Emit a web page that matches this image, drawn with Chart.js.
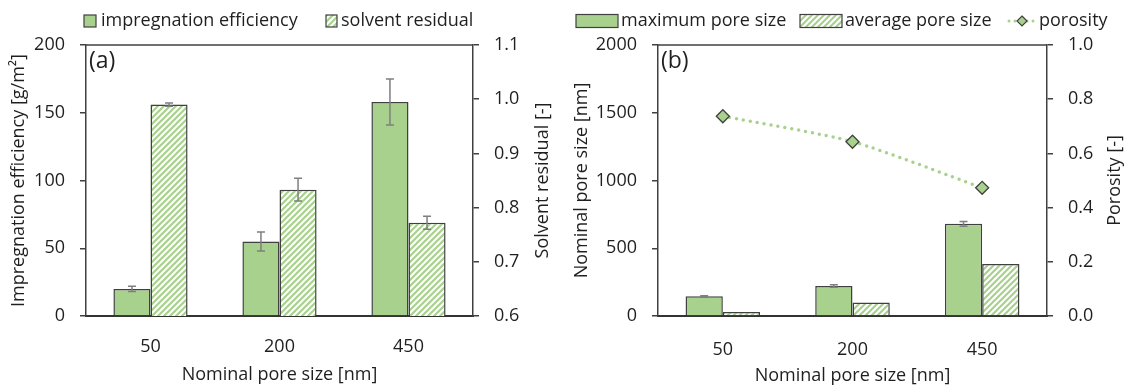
<!DOCTYPE html>
<html>
<head>
<meta charset="utf-8">
<script src="https://cdn.jsdelivr.net/npm/chart.js@4"></script>
<style>
html, body { margin: 0; padding: 0; background: #fff; }
#wrap { position: relative; width: 1126px; height: 387px; }
canvas { position: absolute; top: 0; }
</style>
</head>
<body>
<div id="wrap">
  <canvas id="chartA" width="563" height="387" style="left:0px"></canvas>
  <canvas id="chartB" width="563" height="387" style="left:563px"></canvas>
</div>
<script>
// ---- data ----
const poreSizes = ["50", "200", "450"];

// panel (a)
const impregEff = [20, 55, 158];
const impregEffErr = [2, 7, 17];
const solventRes = [0.99, 0.833, 0.772];
const solventResErr = [0.003, 0.021, 0.012];

// panel (b)
const maxPore = [145, 222, 680];
const maxPoreErr = [5, 9, 18];
const avgPore = [30, 99, 384];
const porosity = [0.737, 0.643, 0.473];

// ---- style ----
const GREEN = "#A9D18E";
const EDGE = "#404040";
const TEXT = "#1f1f1f";
const FONT = "'Open Sans', Lato, sans-serif";

Chart.defaults.font.family = FONT;
Chart.defaults.font.size = 18;
Chart.defaults.color = TEXT;

function makeHatch(canvas) {
    const p = 6;
    const c = document.createElement("canvas");
    c.width = p; c.height = p;
    const g = c.getContext("2d");
    g.fillStyle = "#fff";
    g.fillRect(0, 0, p, p);
    g.strokeStyle = GREEN;
    g.lineWidth = 2.2;
    g.beginPath();
    g.moveTo(-1, p + 1); g.lineTo(p + 1, -1);
    g.moveTo(-1, 1); g.lineTo(1, -1);
    g.moveTo(p - 1, p + 1); g.lineTo(p + 1, p - 1);
    g.stroke();
    return canvas.getContext("2d").createPattern(c, "repeat");
}

// error bars drawn from the dataset's own y scale
const errorBars = {
    id: "errorBars",
    afterDatasetsDraw(chart) {
        const ctx = chart.ctx;
        chart.data.datasets.forEach((ds, i) => {
            if (!ds.errors) return;
            const meta = chart.getDatasetMeta(i);
            const scale = chart.scales[ds.yAxisID];
            ctx.save();
            ctx.strokeStyle = "#7f7f7f";
            ctx.lineWidth = 1.5;
            meta.data.forEach((bar, j) => {
                const yTop = scale.getPixelForValue(ds.data[j] + ds.errors[j]);
                const yBot = scale.getPixelForValue(ds.data[j] - ds.errors[j]);
                const x = bar.x;
                ctx.beginPath();
                ctx.moveTo(x, yTop); ctx.lineTo(x, yBot);
                ctx.moveTo(x - 4, yTop); ctx.lineTo(x + 4, yTop);
                ctx.moveTo(x - 4, yBot); ctx.lineTo(x + 4, yBot);
                ctx.stroke();
            });
            ctx.restore();
        });
    }
};

// frame top line, panel letter, right-axis title and legend
const panelDeco = {
    id: "panelDeco",
    afterDraw(chart, args, opts) {
        const ctx = chart.ctx;
        const a = chart.chartArea;
        ctx.save();
        ctx.strokeStyle = EDGE;
        ctx.lineWidth = 1.5;
        ctx.beginPath();
        ctx.moveTo(a.left, a.top); ctx.lineTo(a.right, a.top);
        ctx.stroke();

        ctx.fillStyle = TEXT;
        ctx.font = "23px " + FONT;
        ctx.textBaseline = "middle";
        ctx.textAlign = "left";
        ctx.fillText(opts.label, a.left + 3, a.top + 16);

        // right title reads bottom to top, like the left one
        ctx.save();
        ctx.font = "18px " + FONT;
        ctx.textAlign = "center";
        ctx.translate(opts.rightTitleX, (a.top + a.bottom) / 2);
        ctx.rotate(-Math.PI / 2);
        ctx.fillText(opts.rightTitle, 0, 0);
        ctx.restore();

        ctx.font = "18px " + FONT;
        opts.legend.forEach(item => {
            const cy = 21;
            if (item.kind === "box") {
                ctx.fillStyle = item.fill;
                ctx.fillRect(item.x, cy - item.h / 2, item.w, item.h);
                ctx.strokeStyle = EDGE;
                ctx.lineWidth = 1.2;
                ctx.strokeRect(item.x, cy - item.h / 2, item.w, item.h);
            } else {
                ctx.strokeStyle = GREEN;
                ctx.lineWidth = 3;
                ctx.lineCap = "round";
                ctx.setLineDash([0, 6]);
                ctx.beginPath();
                ctx.moveTo(item.x, cy); ctx.lineTo(item.x + item.w, cy);
                ctx.stroke();
                ctx.setLineDash([]);
                const mx = item.x + item.w / 2, r = 5;
                ctx.beginPath();
                ctx.moveTo(mx, cy - r); ctx.lineTo(mx + r, cy);
                ctx.lineTo(mx, cy + r); ctx.lineTo(mx - r, cy);
                ctx.closePath();
                ctx.fillStyle = GREEN;
                ctx.fill();
                ctx.strokeStyle = EDGE;
                ctx.lineWidth = 1.2;
                ctx.stroke();
            }
            ctx.fillStyle = TEXT;
            ctx.fillText(item.text, item.tx, cy);
        });
        ctx.restore();
    }
};

function yAxis(pos, min, max, step, width, title, decimals) {
    return {
        position: pos,
        min: min,
        max: max,
        ticks: {
            stepSize: step,
            padding: 15,
            callback: v => Number(v).toFixed(decimals)
        },
        grid: { drawOnChartArea: false, drawTicks: true, tickLength: 6, color: EDGE, lineWidth: 1.5 },
        border: { display: true, color: EDGE, width: 1.5 },
        title: { display: !!title, text: title, padding: { top: 8, bottom: 0 } },
        afterFit(s) { s.width = width; }
    };
}

function xAxis(tickPad, titleBottom) {
    return {
        grid: { display: false, drawTicks: false },
        border: { display: true, color: "#333", width: 2 },
        ticks: { padding: tickPad },
        title: { display: true, text: "Nominal pore size [nm]", padding: { top: 4, bottom: titleBottom } },
        afterFit(s) { s.height = 71; }
    };
}

// ---- panel (a) ----
const canvasA = document.getElementById("chartA");
const hatchA = makeHatch(canvasA);

new Chart(canvasA, {
    type: "bar",
    data: {
        labels: poreSizes,
        datasets: [{
            label: "impregnation efficiency",
            data: impregEff,
            errors: impregEffErr,
            yAxisID: "y",
            backgroundColor: GREEN,
            borderColor: EDGE,
            borderWidth: 1.5
        }, {
            label: "solvent residual",
            data: solventRes,
            errors: solventResErr,
            yAxisID: "y1",
            backgroundColor: hatchA,
            borderColor: EDGE,
            borderWidth: 1.5
        }]
    },
    options: {
        responsive: false,
        animation: false,
        layout: { padding: { top: 45, left: 0, right: 0, bottom: 0 } },
        datasets: { bar: { categoryPercentage: 0.575, barPercentage: 1 } },
        plugins: {
            legend: { display: false },
            tooltip: { enabled: false },
            panelDeco: {
                label: "(a)",
                rightTitle: "Solvent residual [-]",
                rightTitleX: 543,
                legend: [
                    { kind: "box", fill: GREEN, x: 84, w: 12, h: 12, tx: 101, text: "impregnation efficiency" },
                    { kind: "box", fill: hatchA, x: 326, w: 11, h: 12, tx: 341, text: "solvent residual" }
                ]
            }
        },
        scales: {
            x: xAxis(20, 1),
            y: yAxis("left", 0, 200, 50, 86, "Impregnation efficiency [g/m²]", 0),
            y1: yAxis("right", 0.6, 1.1, 0.1, 90, "", 1)
        }
    },
    plugins: [errorBars, panelDeco]
});

// ---- panel (b) ----
const canvasB = document.getElementById("chartB");
const hatchB = makeHatch(canvasB);

new Chart(canvasB, {
    type: "bar",
    data: {
        labels: poreSizes,
        datasets: [{
            type: "line",
            label: "porosity",
            data: porosity,
            yAxisID: "y1",
            borderColor: GREEN,
            borderWidth: 3.5,
            borderDash: [0, 7],
            borderCapStyle: "round",
            tension: 0.25,
            pointStyle: "rectRot",
            pointRadius: 6.5,
            pointBackgroundColor: GREEN,
            pointBorderColor: EDGE,
            pointBorderWidth: 1.3,
            order: 0
        }, {
            label: "maximum pore size",
            data: maxPore,
            errors: maxPoreErr,
            yAxisID: "y",
            backgroundColor: GREEN,
            borderColor: EDGE,
            borderWidth: 1.5,
            order: 1
        }, {
            label: "average pore size",
            data: avgPore,
            yAxisID: "y",
            backgroundColor: hatchB,
            borderColor: EDGE,
            borderWidth: 1.5,
            order: 1
        }]
    },
    options: {
        responsive: false,
        animation: false,
        layout: { padding: { top: 45, left: 0, right: 0, bottom: 0 } },
        datasets: { bar: { categoryPercentage: 0.575, barPercentage: 1 } },
        plugins: {
            legend: { display: false },
            tooltip: { enabled: false },
            panelDeco: {
                label: "(b)",
                rightTitle: "Porosity [-]",
                rightTitleX: 552,
                legend: [
                    { kind: "box", fill: GREEN, x: 13, w: 42, h: 13, tx: 58, text: "maximum pore size" },
                    { kind: "box", fill: hatchB, x: 237, w: 42, h: 13, tx: 282, text: "average pore size" },
                    { kind: "line", x: 446, w: 26, tx: 476, text: "porosity" }
                ]
            }
        },
        scales: {
            x: xAxis(23, 0),
            y: yAxis("left", 0, 2000, 500, 95, "Nominal pore size [nm]", 0),
            y1: yAxis("right", 0, 1, 0.2, 79, "", 1)
        }
    },
    plugins: [errorBars, panelDeco]
});
</script>
</body>
</html>
